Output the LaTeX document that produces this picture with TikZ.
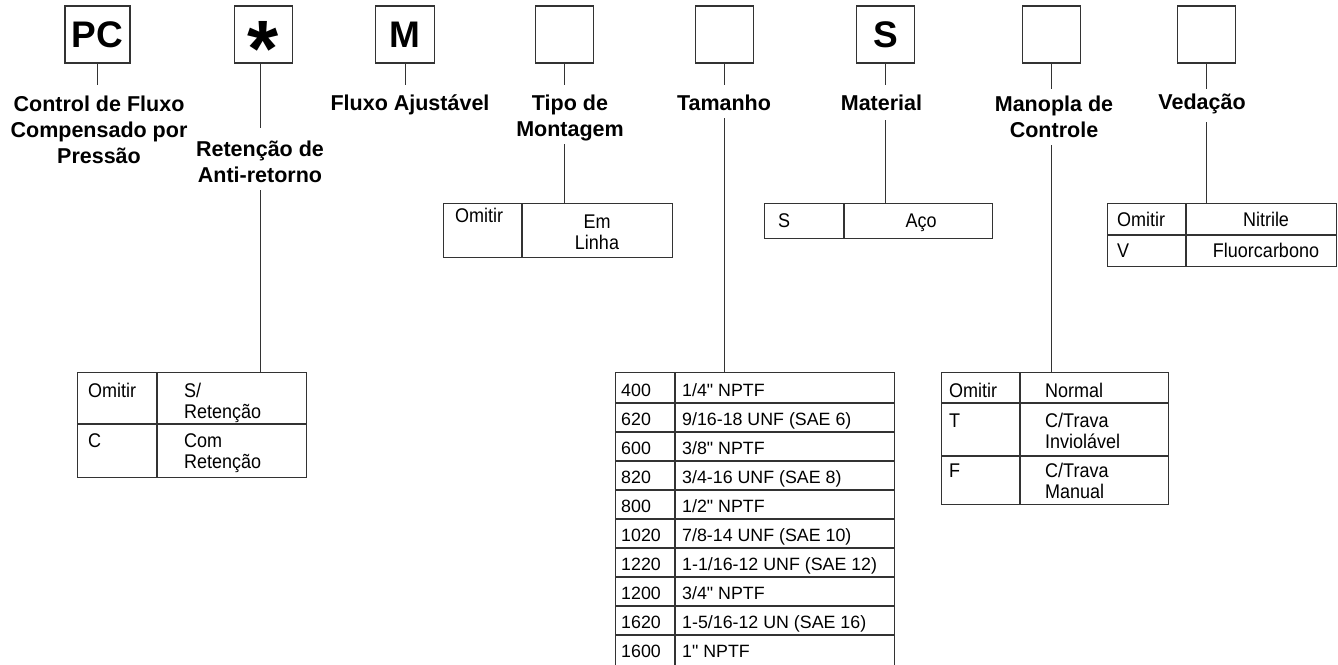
\documentclass[tikz,border=0pt]{standalone}
\usepackage{fontspec}
\setmainfont{Liberation Sans}[Ligatures=TeXOff]
\usepackage{graphicx}
\newcommand{\cellL}[1]{\scalebox{1}[1.1]{\begin{tabular}[t]{@{}l@{}}#1\end{tabular}}}
\newcommand{\cellC}[1]{\scalebox{1}[1.1]{\begin{tabular}[t]{@{}c@{}}#1\end{tabular}}}
\newcommand{\labT}[1]{\begin{tabular}[t]{@{}c@{}}#1\end{tabular}}
\begin{document}
\begin{tikzpicture}[x=1pt,y=-1pt,
  ln/.style={draw=black!80, line width=1.2pt},
  codebox/.style={ln, rectangle, minimum width=58.5pt, minimum height=57pt, inner sep=0pt, font=\bfseries\fontsize{37}{37}\selectfont, text=black},
  lab/.style={anchor=base, inner sep=0pt, font=\bfseries\fontsize{21.5}{26}\selectfont, text=black},
  tbl/.style={ln, rectangle, anchor=north west, inner sep=0pt},
  ctxt/.style={inner sep=0pt, font=\fontsize{18}{19.5}\selectfont, text=black},
  cl/.style={ctxt, anchor=base west},
  cc/.style={ctxt, anchor=base},
  ttxt/.style={inner sep=0pt, anchor=base west, font=\fontsize{17.8}{20}\selectfont, text=black},
  conn/.style={draw=black!80, line width=1pt},
]
\useasboundingbox (0,0) rectangle (1338,664);

% code boxes
\node[codebox, minimum width=65pt] (PC) at (97.5,34.5) {PC};
\node[codebox] (R) at (263.5,34.5) {};
\node[inner sep=0pt, anchor=base, font=\bfseries\fontsize{80}{80}\selectfont, text=black] (Rstar) at (263.5,76.5) {*};
\node[codebox] (M) at (405,34.5) {M};
\node[codebox] (Tipo) at (564.5,34.5) {};
\node[codebox] (Tam) at (724.5,34.5) {};
\node[codebox] (S) at (885.5,34.5) {S};
\node[codebox] (Man) at (1051.5,34.5) {};
\node[codebox] (Ved) at (1206.5,34.5) {};

% labels
\node[lab] (lPC) at (99,111) {\labT{Control de Fluxo\\Compensado por\\Pressão}};
\node[lab] (lR) at (260,156) {\labT{Retenção de\\Anti-retorno}};
\node[lab] (lM) at (410,110) {\labT{Fluxo Ajustável}};
\node[lab] (lTipo) at (570,110) {\labT{Tipo de\\Montagem}};
\node[lab] (lTam) at (724,110) {\labT{Tamanho}};
\node[lab] (lMat) at (881.5,110) {\labT{Material}};
\node[lab] (lMan) at (1054,111) {\labT{Manopla de\\Controle}};
\node[lab] (lVed) at (1202,109) {\labT{Vedação}};

% stubs
\draw[conn, shorten >=7.8pt] (PC.south) -- (PC.south |- lPC.north);
\draw[conn, shorten >=10pt] (lR.north |- R.south) -- (lR.north);
\draw[conn, shorten >=6.8pt] (M.south) -- (M.south |- lM.north);
\draw[conn, shorten >=6.8pt] (Tipo.south) -- (Tipo.south |- lTipo.north);
\draw[conn, shorten >=6.8pt] (Tam.south) -- (Tam.south |- lTam.north);
\draw[conn, shorten >=6.8pt] (S.south) -- (S.south |- lMat.north);
\draw[conn, shorten >=3.8pt] (Man.south) -- (Man.south |- lMan.north);
\draw[conn, shorten >=2pt] (Ved.south) -- (Ved.south |- lVed.north);

% tables
\node[tbl, minimum width=229pt, minimum height=105pt] (tR) at (77,372) {};
\draw[ln] ([xshift=80pt]tR.north west) -- ([xshift=80pt]tR.south west);
\draw[ln] ([yshift=-52pt]tR.north west) -- ([yshift=-52pt]tR.north east);
\node[cl] (r1a) at (88,397) {\cellL{Omitir}};
\node[cl] (r1b) at (184,397) {\cellL{S/\\Retenção}};
\node[cl] (r2a) at (88,447) {\cellL{C}};
\node[cl] (r2b) at (184,447) {\cellL{Com\\Retenção}};

\node[tbl, minimum width=229pt, minimum height=54pt] (tTipo) at (443,203) {};
\draw[ln] ([xshift=79pt]tTipo.north west) -- ([xshift=79pt]tTipo.south west);
\node[cl] (p1a) at (455,222) {\cellL{Omitir}};
\node[cc] (p1b) at (597,228) {\cellC{Em\\Linha}};

\node[tbl, minimum width=228pt, minimum height=35pt] (tMat) at (764,203) {};
\draw[ln] ([xshift=80pt]tMat.north west) -- ([xshift=80pt]tMat.south west);
\node[cl] (m1a) at (778,227) {\cellL{S}};
\node[cc] (m1b) at (921,227) {\cellC{Aço}};

\node[tbl, minimum width=229pt, minimum height=63pt] (tVed) at (1107,203) {};
\draw[ln] ([xshift=79pt]tVed.north west) -- ([xshift=79pt]tVed.south west);
\draw[ln] ([yshift=-32pt]tVed.north west) -- ([yshift=-32pt]tVed.north east);
\node[cl] (v1a) at (1117,226) {\cellL{Omitir}};
\node[cc] (v1b) at (1266,226) {\cellC{Nitrile}};
\node[cl] (v2a) at (1117,257) {\cellL{V}};
\node[cc] (v2b) at (1266,257) {\cellC{Fluorcarbono}};

\node[tbl, minimum width=227pt, minimum height=132pt] (tMan) at (941,372) {};
\draw[ln] ([xshift=79pt]tMan.north west) -- ([xshift=79pt]tMan.south west);
\draw[ln] ([yshift=-31pt]tMan.north west) -- ([yshift=-31pt]tMan.north east);
\draw[ln] ([yshift=-84pt]tMan.north west) -- ([yshift=-84pt]tMan.north east);
\node[cl] (n1a) at (949,397) {\cellL{Omitir}};
\node[cl] (n1b) at (1045,397) {\cellL{Normal}};
\node[cl] (n2a) at (949,427) {\cellL{T}};
\node[cl] (n2b) at (1045,427) {\cellL{C/Trava\\Inviolável}};
\node[cl] (n3a) at (949,477) {\cellL{F}};
\node[cl] (n3b) at (1045,477) {\cellL{C/Trava\\Manual}};

\node[tbl, minimum width=279pt, minimum height=294pt] (tTam) at (615,372) {};
\draw[ln] ([xshift=60pt]tTam.north west) -- ([xshift=60pt]tTam.south west);
\foreach \d in {31,60,89,118,147,176,205,234,263}
  \draw[ln] ([yshift=-\d pt]tTam.north west) -- ([yshift=-\d pt]tTam.north east);
\foreach \y/\c/\t [count=\i] in {396/400/{1/4" NPTF}, 425/620/{9/16-18 UNF (SAE 6)}, 454/600/{3/8" NPTF}, 483/820/{3/4-16 UNF (SAE 8)}, 512/800/{1/2" NPTF}, 541/1020/{7/8-14 UNF (SAE 10)}, 570/1220/{1-1/16-12 UNF (SAE 12)}, 599/1200/{3/4" NPTF}, 628/1620/{1-5/16-12 UN (SAE 16)}, 657/1600/{1" NPTF}} {
  \node[ttxt] (tc\i) at (621,\y) {\c};
  \node[ttxt] (td\i) at (682,\y) {\t};
}

% lower connectors
\draw[conn] (lR.south) -- (lR.south |- tR.north);
\draw[conn] (lTipo.south -| Tipo) -- (tTipo.north -| Tipo);
\draw[conn] (lTam.south -| Tam) -- (tTam.north -| Tam);
\draw[conn, shorten <=2pt] (lMat.south -| S) -- (tMat.north -| S);
\draw[conn] (lMan.south -| Man) -- (tMan.north -| Man);
\draw[conn, shorten <=5pt] (lVed.south -| Ved) -- (tVed.north -| Ved);
\end{tikzpicture}
\end{document}
